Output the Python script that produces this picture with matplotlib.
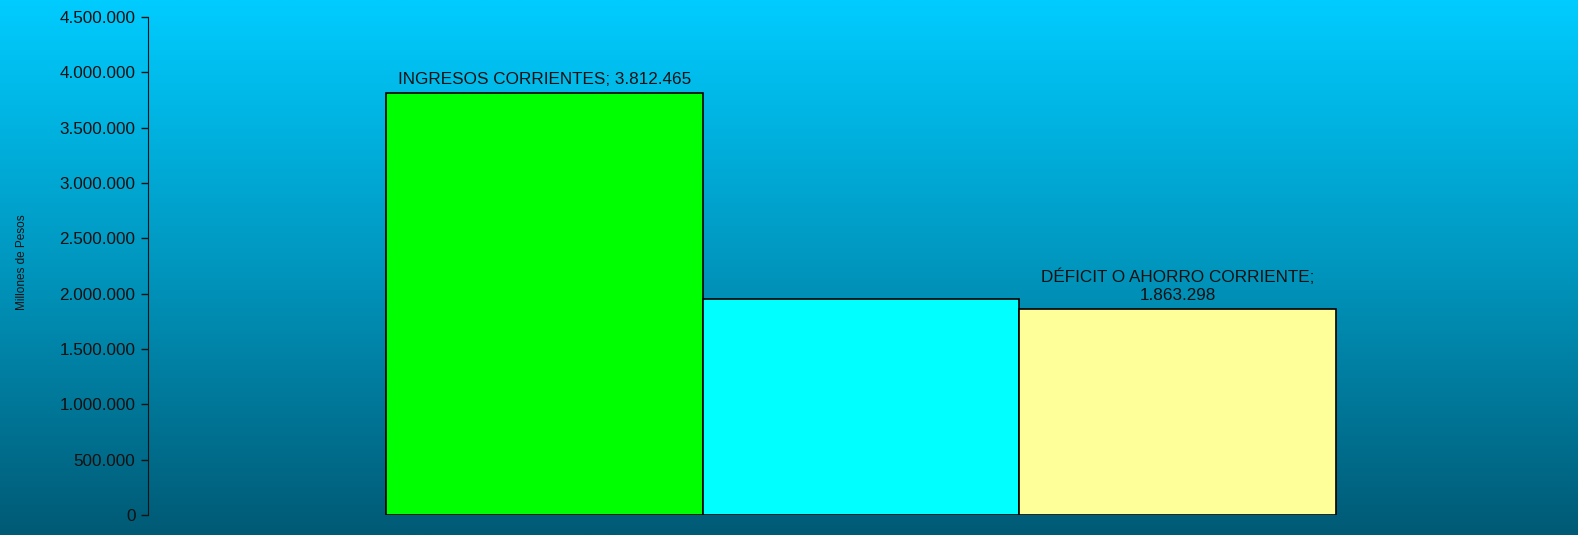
import matplotlib
matplotlib.use("Agg")
import matplotlib.pyplot as plt
import numpy as np
from matplotlib.colors import LinearSegmentedColormap
from matplotlib.ticker import FuncFormatter

plt.rcParams['font.family'] = ['Liberation Sans', 'DejaVu Sans']

categories = ["INGRESOS CORRIENTES", "GASTOS CORRIENTES", "DÉFICIT O AHORRO CORRIENTE"]
values = [3812465, 1949167, 1863298]
colors = ["#00FF00", "#00FFFF", "#FFFF99"]
labels = ["INGRESOS CORRIENTES; 3.812.465", None, "DÉFICIT O AHORRO CORRIENTE;\n1.863.298"]
yticks = [0, 500000, 1000000, 1500000, 2000000, 2500000, 3000000, 3500000, 4000000, 4500000]

W, H = 1578, 535
fig = plt.figure(figsize=(W / 100, H / 100), dpi=100)

# background gradient
bg = fig.add_axes([0, 0, 1, 1], zorder=-10)
cmap = LinearSegmentedColormap.from_list("bg", ["#005A75", "#0096BE", "#00CCFF"])
grad = np.linspace(0, 1, 256).reshape(-1, 1)
bg.imshow(grad, aspect="auto", cmap=cmap, origin="lower", extent=[0, 1, 0, 1])
bg.axis("off")

ax = fig.add_axes([148 / W, 1 - 515 / H, (1574 - 148) / W, (515 - 17) / H])
ax.patch.set_alpha(0)

x = np.arange(len(values))
ax.bar(x, values, width=1.0, color=colors, edgecolor="black", linewidth=1.2, zorder=3)

for xi, v, lab in zip(x, values, labels):
    if lab:
        ax.text(xi, v + 55000, lab, ha="center", va="bottom", fontsize=12.3,
                color="#111111", linespacing=1.25)

ax.set_xlim(-1.25, 3.25)
ax.set_ylim(0, 4500000)
ax.set_yticks(yticks)
ax.yaxis.set_major_formatter(FuncFormatter(lambda v, p: f"{int(v):,}".replace(",", ".")))
ax.tick_params(axis="y", direction="out", length=5, width=1, colors="#111111",
               labelsize=12.3, pad=4)
ax.set_xticks([])
for s in ["top", "right", "bottom"]:
    ax.spines[s].set_visible(False)
ax.spines["left"].set_color("#111111")

fig.text(22 / W, 1 - 262 / H, "Millones de Pesos", rotation=90, ha="center", va="center",
         fontsize=8.5, color="#111111")

fig.savefig("out.png", dpi=100)
